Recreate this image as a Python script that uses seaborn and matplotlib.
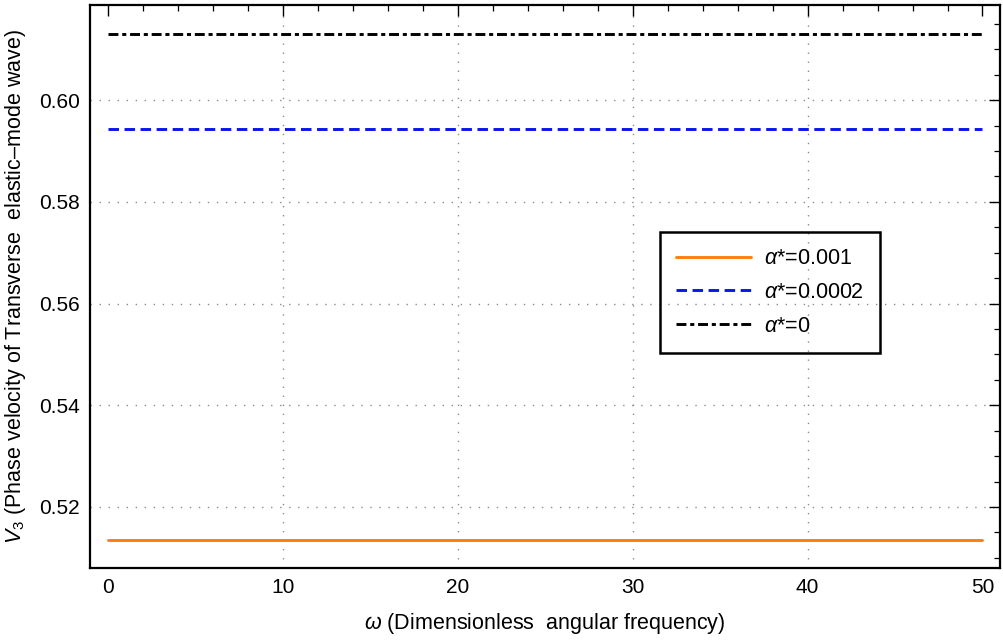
import matplotlib
matplotlib.use("Agg")
import matplotlib.pyplot as plt
import seaborn as sns
import pandas as pd
from matplotlib.ticker import MultipleLocator, FormatStrFormatter

# Phase velocity of the transverse elastic-mode wave vs. dimensionless frequency
omega = [0, 10, 20, 30, 40, 50]
v3_alpha_0001 = [0.5135, 0.5135, 0.5135, 0.5135, 0.5135, 0.5135]
v3_alpha_00002 = [0.5944, 0.5944, 0.5944, 0.5944, 0.5944, 0.5944]
v3_alpha_0 = [0.6130, 0.6130, 0.6130, 0.6130, 0.6130, 0.6130]
series_labels = [r"$\alpha$*=0.001", r"$\alpha$*=0.0002", r"$\alpha$*=0"]

# interior grid lines only
grid_x = [10, 20, 30, 40]
grid_y = [0.52, 0.54, 0.56, 0.58, 0.60]

sns.set_theme(style="white")
plt.rcParams["font.family"] = ["Liberation Sans", "DejaVu Sans"]
plt.rcParams["mathtext.fontset"] = "custom"
plt.rcParams["mathtext.rm"] = "Liberation Sans"
plt.rcParams["mathtext.it"] = "Liberation Sans:italic"
plt.rcParams["text.color"] = "black"
plt.rcParams["axes.labelcolor"] = "black"

fig = plt.figure(figsize=(10.04, 6.40), dpi=100)
ax = fig.add_axes([0.0896, 0.1125, 0.9064, 0.8795])

grid_style = dict(color="#8c8c8c", linestyle=(0, (1, 5.5)), linewidth=1.0, zorder=0)
for gx in grid_x:
    ax.axvline(gx, **grid_style)
for gy in grid_y:
    ax.axhline(gy, **grid_style)

styles = [
    dict(color="#ff7f0e", linestyle="-"),
    dict(color="#0a14f0", linestyle=(0, (3.6, 1.9))),
    dict(color="black", linestyle=(0, (3.4, 1.3, 1.4, 1.3))),
]
for vals, lab, st in zip([v3_alpha_0001, v3_alpha_00002, v3_alpha_0], series_labels, styles):
    df = pd.DataFrame({"omega": omega, "v3": vals})
    sns.lineplot(data=df, x="omega", y="v3", ax=ax, label=lab, linewidth=2.1, **st)

ax.set_xlim(-1.03, 51.0)
ax.set_ylim(0.5080, 0.6187)
ax.xaxis.set_major_locator(MultipleLocator(10))
ax.xaxis.set_minor_locator(MultipleLocator(2))
ax.yaxis.set_major_locator(MultipleLocator(0.02))
ax.yaxis.set_minor_locator(MultipleLocator(0.005))
ax.yaxis.set_major_formatter(FormatStrFormatter("%.2f"))

ax.tick_params(which="both", direction="in", top=True, right=True, labeltop=False,
               labelright=False, color="black", labelcolor="black")
ax.tick_params(which="major", length=8, width=1.0, labelsize=15, pad=7)
ax.tick_params(which="minor", length=4, width=0.9)

for sp in ax.spines.values():
    sp.set_color("black")
    sp.set_linewidth(1.6)

ax.set_xlabel(r"$\omega$ (Dimensionless  angular frequency)", fontsize=15.5, labelpad=10)
ax.set_ylabel(r"$V_3$ (Phase velocity of Transverse  elastic–mode wave)", fontsize=15.5,
              labelpad=8)

leg = ax.legend(loc="upper left", bbox_to_anchor=(0.626, 0.597), frameon=True,
                fontsize=15.5, handlelength=3.5, handletextpad=0.6, borderpad=0.75,
                labelspacing=0.6, fancybox=False, borderaxespad=0)
frame = leg.get_frame()
frame.set_facecolor("none")
frame.set_alpha(None)
frame.set_edgecolor("black")
frame.set_linewidth(1.8)

fig.savefig("out.png", dpi=100)
